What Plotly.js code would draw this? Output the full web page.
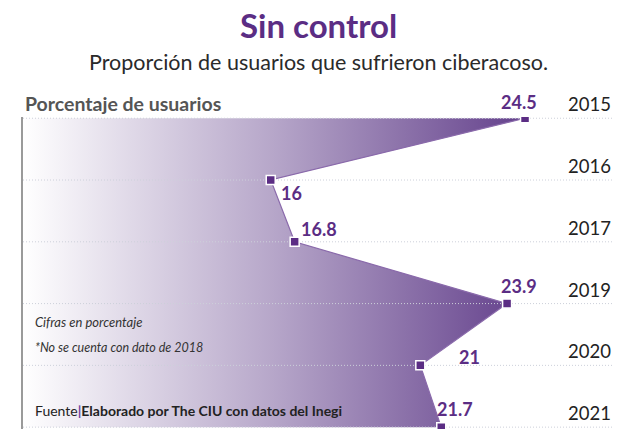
<!DOCTYPE html>
<html>
<head>
<meta charset="utf-8">
<script src="https://cdn.plot.ly/plotly-3.0.1.min.js"></script>
<style>html,body{margin:0;padding:0;background:#fff;}#chart{width:636px;height:429px;}</style>
</head>
<body>
<div id="chart"></div>
<script>
// Data
var years = ["2015", "2016", "2017", "2019", "2020", "2021"];
var values = [24.5, 16, 16.8, 23.9, 21, 21.7];
var valueLabels = ["24.5", "16", "16.8", "23.9", "21", "21.7"];

var xRange = [7.72, 27.44];
var idx = years.map(function (_, i) { return i; });
var purple = "#5b2d84";
var font = "Lato, 'Open Sans', sans-serif";

var traces = [];
// gradient area
traces.push({
  x: values, y: idx, type: "scatter", mode: "lines",
  line: { color: "#8a6aab", width: 1.2 },
  fill: "tozerox",
  fillgradient: {
    type: "horizontal",
    start: xRange[0], stop: values[0],
    colorscale: [[0, "#ffffff"], [0.5, "#b6a6c9"], [1, "#64418c"]]
  },
  hoverinfo: "skip", showlegend: false
});
// dotted grid lines above the fill
idx.forEach(function (i) {
  traces.push({
    x: [xRange[0], xRange[1]], y: [i, i], type: "scatter", mode: "lines",
    line: { color: "#cdd0da", width: 1, dash: "1px,2px" },
    hoverinfo: "skip", showlegend: false
  });
});
// markers
traces.push({
  x: values, y: idx, type: "scatter", mode: "markers",
  marker: { symbol: "square", size: 9, color: purple, line: { color: "#ffffff", width: 1.5 } },
  hoverinfo: "skip", showlegend: false
});

var labelShift = [[-6, 16], [21, -13], [24, 13], [12, 18], [49, 8], [14, 18]];
var annotations = [];
idx.forEach(function (i) {
  annotations.push({
    x: 1, xref: "paper", y: i, yref: "y", xanchor: "right", yanchor: "middle",
    yshift: 14, text: years[i], showarrow: false,
    font: { family: font, size: 18.5, color: "#222222" }
  });
  annotations.push({
    x: values[i], y: i, xanchor: "center", yanchor: "middle",
    xshift: labelShift[i][0], yshift: labelShift[i][1],
    text: "<b>" + valueLabels[i] + "</b>", showarrow: false,
    font: { family: font, size: 18, color: purple }
  });
});
annotations.push(
  { x: 0, xref: "paper", xanchor: "left", xshift: 0, y: 0, yref: "y", yshift: 15, yanchor: "middle",
    text: "<b>Porcentaje de usuarios</b>", showarrow: false,
    font: { family: font, size: 19.5, color: "#555555" } },
  { x: 0, xref: "paper", xanchor: "left", xshift: 10, y: 3, yref: "y", yshift: -18, yanchor: "middle",
    text: "<i>Cifras en porcentaje</i>", showarrow: false,
    font: { family: font, size: 13, color: "#333333" } },
  { x: 0, xref: "paper", xanchor: "left", xshift: 10, y: 3, yref: "y", yshift: -44, yanchor: "middle",
    text: "<i>*No se cuenta con dato de 2018</i>", showarrow: false,
    font: { family: font, size: 12.5, color: "#333333" } },
  { x: 0, xref: "paper", xanchor: "left", xshift: 10, y: 5, yref: "y", yshift: 17, yanchor: "middle",
    text: "Fuente<b><span style='color:#6b3fa0'>|</span>Elaborado por The CIU con datos del Inegi</b>", showarrow: false,
    font: { family: font, size: 14, color: "#222222" } },
  { x: 0.5, xref: "paper", y: 1, yref: "paper", yshift: 92, xanchor: "center", yanchor: "middle",
    text: "<b>Sin control</b>", showarrow: false,
    font: { family: font, size: 33, color: purple } },
  { x: 0.5, xref: "paper", y: 1, yref: "paper", yshift: 55, xanchor: "center", yanchor: "middle",
    text: "Proporción de usuarios que sufrieron ciberacoso.", showarrow: false,
    font: { family: font, size: 21.5, color: "#2a2a2a" } }
);

var layout = {
  width: 636, height: 429,
  margin: { l: 23, r: 23, t: 117, b: 0 },
  paper_bgcolor: "#ffffff", plot_bgcolor: "rgba(0,0,0,0)",
  xaxis: { range: xRange, showgrid: false, zeroline: false, showticklabels: false, ticks: "", fixedrange: true },
  yaxis: { range: [5.03, -0.02], showgrid: false, zeroline: false, showticklabels: false, ticks: "",
           showline: true, linecolor: "#9a9a9a", linewidth: 2.5, fixedrange: true },
  annotations: annotations,
  showlegend: false
};

Plotly.newPlot("chart", traces, layout, { displayModeBar: false, staticPlot: true });
</script>
</body>
</html>
